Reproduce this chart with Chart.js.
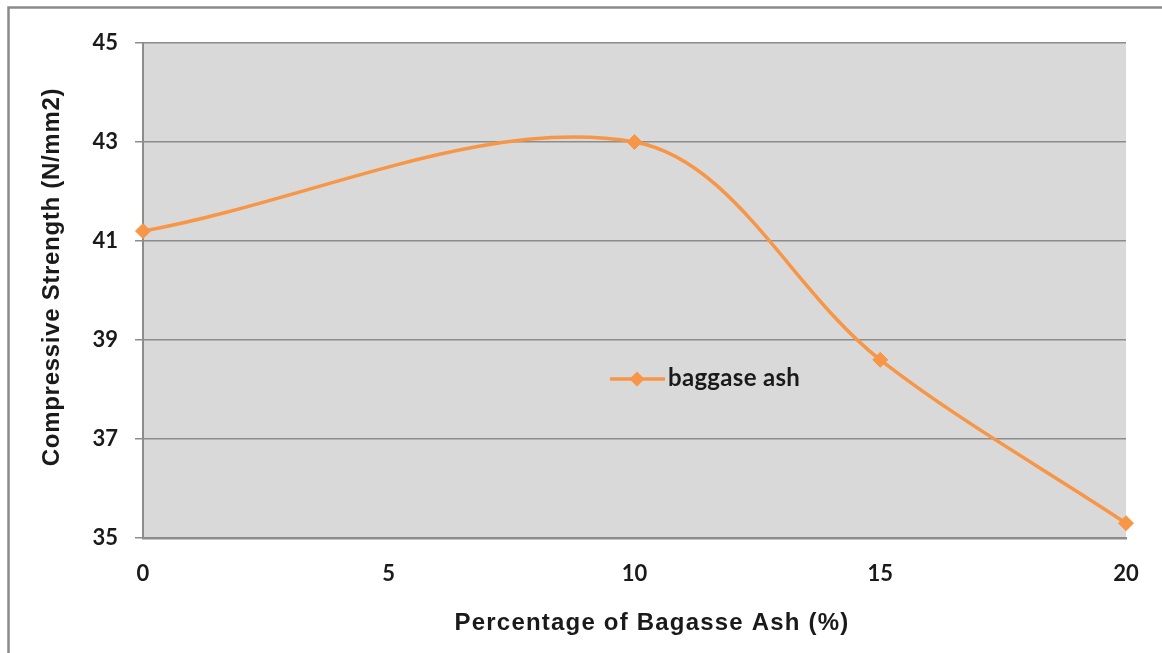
<!DOCTYPE html>
<html>
<head>
<meta charset="utf-8">
<style>
  html, body { margin: 0; padding: 0; background: #ffffff; }
  #wrap { width: 1162px; height: 653px; position: relative; }
</style>
<script src="https://cdn.jsdelivr.net/npm/chart.js@4.4.1/dist/chart.umd.min.js"></script>
</head>
<body>
<div id="wrap"><canvas id="chart" width="1162" height="653"></canvas></div>
<script>
// Bagasse ash replacement (%) and measured compressive strength (N/mm2)
const ashPercent = [0, 10, 15, 20];
const strength = [41.2, 43.0, 38.6, 35.3];
const seriesName = 'baggase ash';
const xTitle = 'Percentage of Bagasse Ash (%)';
const yTitle = 'Compressive Strength (N/mm2)';

const lineColor = '#f79646';
const gridColor = '#8c8c8c';

// Grey plot area plus the outer frame (left and top edges)
const backdrop = {
  id: 'backdrop',
  beforeDraw(chart) {
    const { ctx, chartArea: a } = chart;
    ctx.save();
    ctx.fillStyle = '#d9d9d9';
    ctx.fillRect(a.left, a.top, a.right - a.left, a.bottom - a.top);
    ctx.strokeStyle = '#8a8a8a';
    ctx.lineWidth = 2.5;
    ctx.beginPath();
    ctx.moveTo(8.5, 653);
    ctx.lineTo(8.5, 7.5);
    ctx.lineTo(1162, 7.5);
    ctx.stroke();
    ctx.restore();
  }
};

// Axis titles and the in-plot legend entry
const annotations = {
  id: 'annotations',
  afterDraw(chart) {
    const { ctx } = chart;
    const ds = chart.data.datasets[0];
    ctx.save();
    ctx.fillStyle = '#1a1a1a';
    ctx.font = 'bold 24px "Liberation Sans", Arial, sans-serif';
    ctx.textAlign = 'center';
    ctx.textBaseline = 'middle';
    ctx.letterSpacing = '1.2px';
    ctx.fillText(xTitle, 652, 623);
    ctx.letterSpacing = '0.7px';
    ctx.translate(52, 277);
    ctx.rotate(-Math.PI / 2);
    ctx.fillText(yTitle, 0, 0);
    ctx.restore();

    // legend: line sample with diamond marker, then the series name
    ctx.save();
    const ly = 379;
    ctx.strokeStyle = ds.borderColor;
    ctx.lineWidth = 3.5;
    ctx.beginPath();
    ctx.moveTo(610, ly);
    ctx.lineTo(665, ly);
    ctx.stroke();
    ctx.fillStyle = ds.pointBackgroundColor;
    const r = 7.5;
    ctx.beginPath();
    ctx.moveTo(637, ly - r);
    ctx.lineTo(637 + r, ly);
    ctx.lineTo(637, ly + r);
    ctx.lineTo(637 - r, ly);
    ctx.closePath();
    ctx.fill();
    ctx.fillStyle = '#1a1a1a';
    ctx.font = 'bold 24px Lato, "Open Sans", sans-serif';
    ctx.textAlign = 'left';
    ctx.textBaseline = 'middle';
    ctx.letterSpacing = '0.3px';
    ctx.fillText(ds.label, 668, ly - 1);
    ctx.restore();
  }
};

new Chart(document.getElementById('chart'), {
  type: 'scatter',
  data: {
    datasets: [{
      label: seriesName,
      data: ashPercent.map((x, i) => ({ x: x, y: strength[i] })),
      showLine: true,
      borderColor: lineColor,
      backgroundColor: lineColor,
      pointBackgroundColor: lineColor,
      pointBorderColor: lineColor,
      borderWidth: 3.5,
      tension: 0.34,
      pointStyle: 'rectRot',
      pointRadius: 7.5,
      pointBorderWidth: 1,
      clip: false
    }]
  },
  plugins: [backdrop, annotations],
  options: {
    responsive: false,
    animation: false,
    devicePixelRatio: 1,
    layout: { padding: { left: 0, top: 43, right: 36, bottom: 0 } },
    plugins: {
      legend: { display: false },
      tooltip: { enabled: false }
    },
    scales: {
      x: {
        type: 'linear',
        min: 0,
        max: 20,
        ticks: {
          stepSize: 5,
          padding: 23,
          color: '#1a1a1a',
          font: { family: 'Lato, "Open Sans", sans-serif', size: 22, weight: 'bold' }
        },
        grid: { display: false, drawTicks: false },
        border: { display: true, color: '#8c8c8c', width: 2.5 },
        afterFit(scale) { scale.height = 115; }
      },
      y: {
        min: 35,
        max: 45,
        ticks: {
          stepSize: 2,
          padding: 17,
          color: '#1a1a1a',
          font: { family: 'Lato, "Open Sans", sans-serif', size: 22, weight: 'bold' }
        },
        grid: { color: gridColor, lineWidth: 1.5, tickLength: 8, drawOnChartArea: true },
        border: { display: true, color: '#8c8c8c', width: 2 },
        afterFit(scale) { scale.width = 143; }
      }
    }
  }
});
</script>
</body>
</html>
